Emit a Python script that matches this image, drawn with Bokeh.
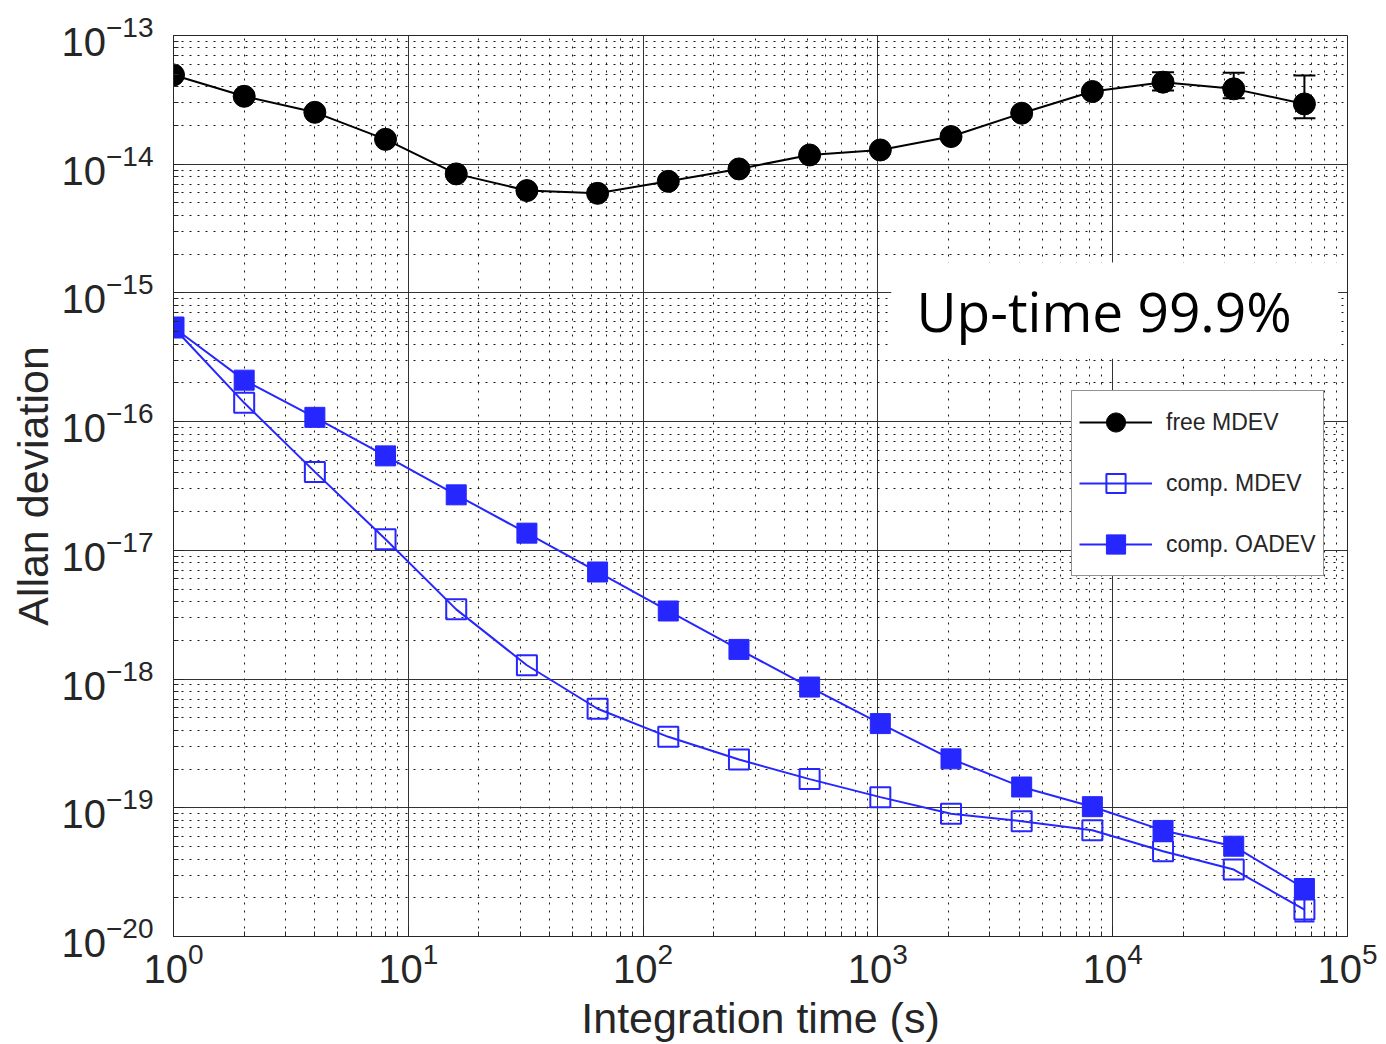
from bokeh.plotting import figure
from bokeh.models import (FixedTicker, LogTickFormatter, Whisker, ColumnDataSource,
                          TeeHead, BoxAnnotation, Label, Range1d)
from bokeh.embed import file_html
from bokeh.resources import INLINE

# ---- data ----
tau = [1, 2, 4, 8, 16, 32, 64, 128, 256, 512, 1024, 2048, 4096, 8192, 16384, 32768, 65536]

free_mdev = [4.94e-14, 3.37e-14, 2.53e-14, 1.56e-14, 8.41e-15, 6.24e-15, 5.94e-15, 7.36e-15,
             9.19e-15, 1.18e-14, 1.29e-14, 1.64e-14, 2.49e-14, 3.67e-14, 4.34e-14, 3.85e-14, 2.94e-14]

comp_mdev = [5.39e-16, 1.40e-16, 4.07e-17, 1.22e-17, 3.48e-18, 1.28e-18, 5.88e-19, 3.56e-19,
             2.37e-19, 1.67e-19, 1.21e-19, 9.00e-20, 7.87e-20, 6.70e-20, 4.60e-20, 3.31e-20, 1.62e-20]

comp_oadev = [5.39e-16, 2.10e-16, 1.08e-16, 5.42e-17, 2.70e-17, 1.36e-17, 6.79e-18, 3.38e-18,
              1.70e-18, 8.67e-19, 4.51e-19, 2.40e-19, 1.45e-19, 1.02e-19, 6.67e-20, 5.03e-20, 2.36e-20]

free_err_tau = [16384, 32768, 65536]
free_err_low = [3.74e-14, 3.26e-14, 2.28e-14]
free_err_high = [5.19e-14, 5.13e-14, 4.89e-14]

mdev_err_tau = [65536]
mdev_err_low = [1.31e-20]
mdev_err_high = [2.00e-20]

x_ticks = [1, 10, 100, 1000, 10000, 100000]
y_ticks = [1e-20, 1e-19, 1e-18, 1e-17, 1e-16, 1e-15, 1e-14, 1e-13]

label_free = "free MDEV"
label_mdev = "comp. MDEV"
label_oadev = "comp. OADEV"
annotation_text = "Up-time 99.9%"

# ---- styling ----
TXT = "#262626"
BLUE = "#2626ff"
FONT = "Liberation Sans"

x_minor = [k * 10.0 ** n for n in range(0, 5) for k in range(2, 10)]
y_minor = [k * 10.0 ** n for n in range(-20, -13) for k in range(2, 10)]

p = figure(x_axis_type="log", y_axis_type="log",
           x_range=Range1d(1, 1e5), y_range=Range1d(1e-20, 1e-13),
           frame_width=1174, frame_height=901,
           min_border_left=173, min_border_right=39, min_border_top=35, min_border_bottom=108,
           output_backend="svg", toolbar_location=None,
           x_axis_label="Integration time (s)", y_axis_label="Allan deviation")

p.xaxis.ticker = FixedTicker(ticks=x_ticks, minor_ticks=x_minor)
p.yaxis.ticker = FixedTicker(ticks=y_ticks, minor_ticks=y_minor)
p.xaxis.formatter = LogTickFormatter()
p.yaxis.formatter = LogTickFormatter()

for ax in (p.xaxis, p.yaxis):
    ax.major_label_text_font = FONT
    ax.major_label_text_font_size = "40px"
    ax.major_label_text_color = TXT
    ax.axis_label_text_font = FONT
    ax.axis_label_text_font_size = "43px"
    ax.axis_label_text_font_style = "normal"
    ax.axis_label_text_color = TXT
    ax.axis_line_color = TXT
    ax.major_tick_in = 10
    ax.major_tick_out = 0
    ax.minor_tick_in = 5
    ax.minor_tick_out = 0
    ax.major_tick_line_color = TXT
    ax.minor_tick_line_color = TXT

p.xaxis.major_label_standoff = 5
p.yaxis.major_label_standoff = 20
p.xaxis.axis_label_standoff = 8
p.yaxis.axis_label_standoff = 2

p.outline_line_color = TXT
p.outline_line_width = 1

for g in (p.xgrid, p.ygrid):
    g.grid_line_color = "#333333"
    g.grid_line_width = 1
    g.minor_grid_line_color = "black"
    g.minor_grid_line_dash = "2 6"
    g.minor_grid_line_width = 1
    g.minor_grid_line_alpha = 0.9

# ---- series ----
p.line(tau, free_mdev, line_color="black", line_width=2, legend_label=label_free)
p.scatter(tau, free_mdev, marker="circle", size=22, fill_color="black", line_color="black",
          legend_label=label_free)

p.line(tau, comp_mdev, line_color=BLUE, line_width=2, legend_label=label_mdev)
p.scatter(tau, comp_mdev, marker="square", size=20, fill_alpha=0, line_color=BLUE, line_width=2,
          legend_label=label_mdev)

p.line(tau, comp_oadev, line_color=BLUE, line_width=2, legend_label=label_oadev)
p.scatter(tau, comp_oadev, marker="square", size=20, fill_color=BLUE, line_color=BLUE,
          legend_label=label_oadev)

# error bars
src_fe = ColumnDataSource(dict(x=free_err_tau, lo=free_err_low, hi=free_err_high))
p.add_layout(Whisker(source=src_fe, base="x", lower="lo", upper="hi", dimension="height",
                     line_color="black", line_width=2,
                     upper_head=TeeHead(size=22, line_color="black", line_width=2),
                     lower_head=TeeHead(size=22, line_color="black", line_width=2)))
src_me = ColumnDataSource(dict(x=mdev_err_tau, lo=mdev_err_low, hi=mdev_err_high))
p.add_layout(Whisker(source=src_me, base="x", lower="lo", upper="hi", dimension="height",
                     line_color=BLUE, line_width=2,
                     upper_head=TeeHead(size=20, line_color=BLUE, line_width=2),
                     lower_head=TeeHead(size=20, line_color=BLUE, line_width=2)))

# white box behind the annotation text
p.add_layout(BoxAnnotation(left=1140, right=91200, bottom=3.08e-16, top=1.72e-15,
                           fill_color="white", fill_alpha=1.0, line_alpha=0, level="annotation"))
p.add_layout(Label(x=9190, y=7.3e-16, text=annotation_text, text_align="center",
                   text_baseline="alphabetic", text_font="Open Sans",
                   text_font_size="55px", text_color="black"))

# legend
lg = p.legend[0]
lg.location = (898, 360)
lg.label_text_font = FONT
lg.label_text_font_size = "23px"
lg.label_text_color = TXT
lg.glyph_width = 73
lg.glyph_height = 48
lg.spacing = 13
lg.padding = 7
lg.margin = 0
lg.label_standoff = 14
lg.border_line_color = TXT
lg.border_line_width = 1
lg.background_fill_alpha = 1.0

open("out.html", "w").write(file_html(p, INLINE))
